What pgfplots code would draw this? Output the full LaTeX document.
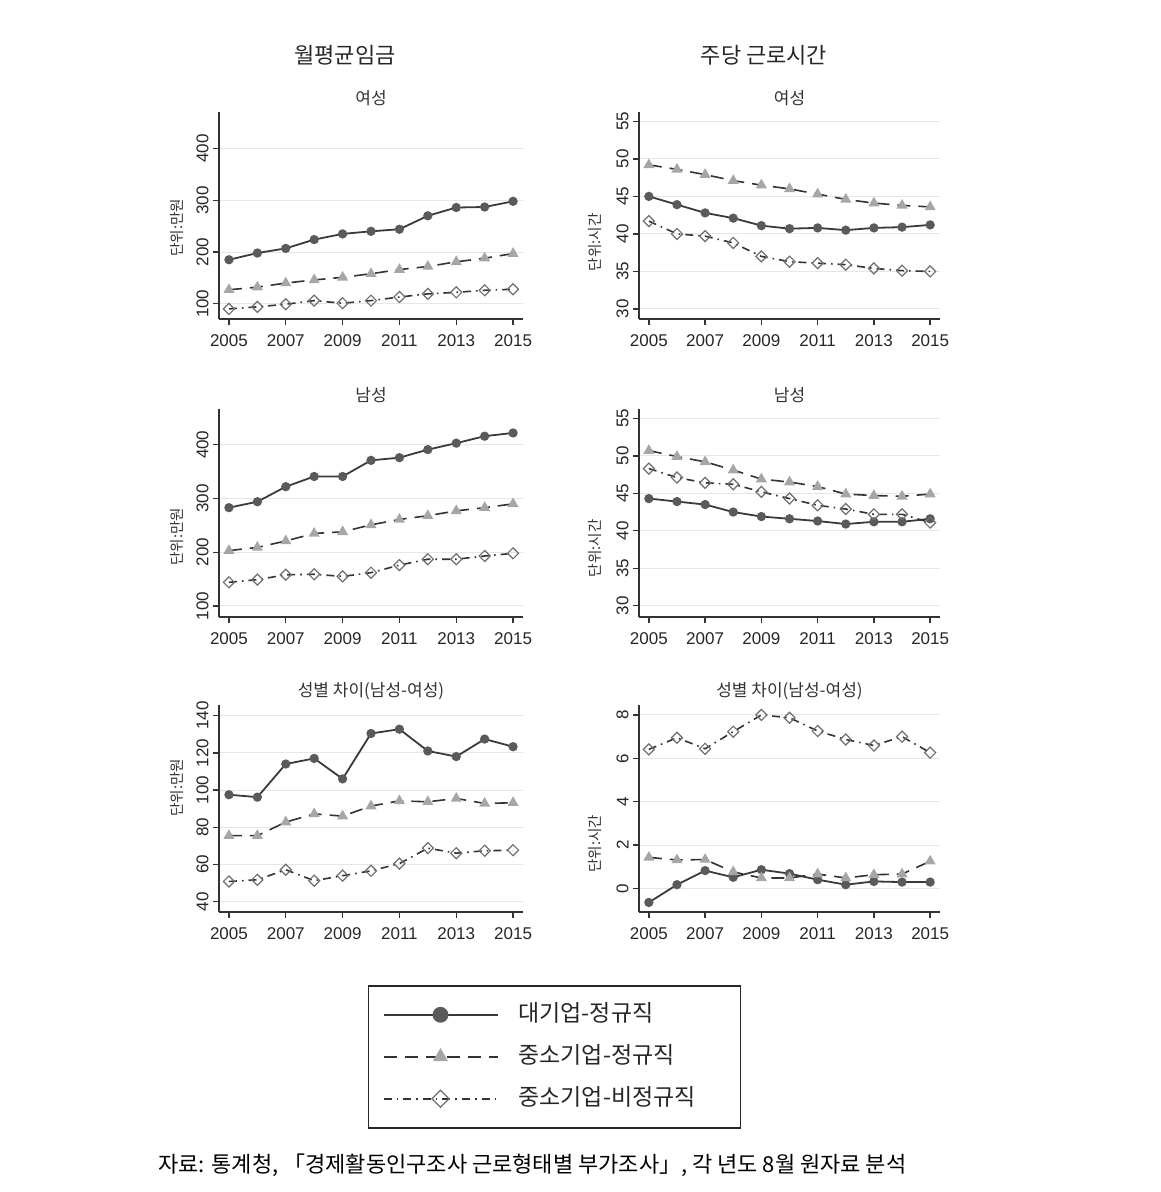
\documentclass[border=0pt]{standalone}
\usepackage{fontspec}
\setmainfont{Noto Sans CJK KR}
\newfontfamily\arial{Liberation Sans}
\usepackage{pgfplots}
\pgfplotsset{compat=1.18}

\definecolor{cLarge}{HTML}{5A5A5A}
\definecolor{cLargeLine}{HTML}{3A3A3A}
\definecolor{cSmeTri}{HTML}{A6A6A6}
\definecolor{cDia}{HTML}{6E6E6E}
\definecolor{gridc}{HTML}{E6E6E6}
\definecolor{axisc}{HTML}{333333}

\pgfplotsset{
 panel/.style={
  scale only axis, height=103.5pt,
  xmin=2004.65, xmax=2015.35,
  xtick={2005,2007,...,2015},
  axis lines*=left,
  axis line style={axisc, line width=0.8pt},
  tick style={axisc, line width=0.7pt},
  tick align=outside, major tick length=3pt,
  ymajorgrids, grid style={gridc, line width=0.5pt},
  /pgf/number format/assume math mode=true,
  /pgf/number format/1000 sep={},
  tick label style={font=\arial\fontsize{8.5}{10}\selectfont, text=black!85},
  yticklabel style={rotate=90, anchor=south, inner sep=2pt},
  xticklabel style={anchor=north, inner sep=2pt, yshift=-2.5pt},
  every axis title shift=0pt,
  title style={font=\fontsize{8.5}{10}\selectfont, text=black!80, at={(0.5,1)}, anchor=center, yshift=7pt},
  ylabel style={font=\fontsize{7.3}{9}\selectfont, text=black!80, anchor=center},
 },
 leftcol/.style={panel, width=152pt},
 rightcol/.style={panel, width=150.5pt},
 large/.style={cLargeLine, solid, line width=0.9pt, mark=*, mark size=1.85pt, mark options={fill=cLarge, draw=cLarge, solid},
   legend image post style={mark size=3.5pt}},
 smereg/.style={black!80, dash pattern=on 6.5pt off 4pt, line width=0.8pt, mark=triangle*, mark size=2.4pt, mark options={fill=cSmeTri, draw=cSmeTri, solid},
   legend image post style={mark size=3.6pt}},
 smenon/.style={black!80, dash pattern=on 4pt off 2.5pt on 0.8pt off 2.5pt, line width=0.8pt, mark=square, mark size=1.95pt, mark options={draw=cDia, fill=white, solid, line width=0.6pt, rotate=45},
   legend image post style={mark size=3pt}},
}

\begin{document}
\begin{tikzpicture}
\path[use as bounding box] (0,0) rectangle (580pt,596pt);

\node[font=\fontsize{11}{13}\selectfont, text=black!85] at (172.5pt,568.5pt) {월평균임금};
\node[font=\fontsize{11}{13}\selectfont, text=black!85] at (382pt,568.5pt) {주당 근로시간};

% P1 wage female
\begin{axis}[leftcol, at={(109.5pt,436.5pt)}, anchor=south west,
  ymin=70.5, ymax=470.7, ytick={100,200,300,400}, title={여성},
  ylabel={단위:만원}, ylabel style={at={(axis description cs:-0.138,0.44)}}]
\addplot[large] coordinates {(2005,185)(2006,198)(2007,207)(2008,224)(2009,235)(2010,240)(2011,244)(2012,270)(2013,286)(2014,287)(2015,298)};
\addplot[smereg] coordinates {(2005,127)(2006,132)(2007,140)(2008,146)(2009,151)(2010,158)(2011,166)(2012,172)(2013,181)(2014,188)(2015,197)};
\addplot[smenon] coordinates {(2005,90)(2006,94)(2007,99)(2008,106)(2009,101)(2010,106)(2011,113)(2012,119)(2013,122)(2014,126)(2015,128)};
\end{axis}

% P2 hours female
\begin{axis}[rightcol, at={(319.5pt,436.5pt)}, anchor=south west,
  ymin=28.66, ymax=56.25, ytick={30,35,...,55}, title={여성},
  ylabel={단위:시간}, ylabel style={at={(axis description cs:-0.145,0.37)}}]
\addplot[large] coordinates {(2005,45.0)(2006,43.9)(2007,42.8)(2008,42.1)(2009,41.1)(2010,40.7)(2011,40.8)(2012,40.5)(2013,40.8)(2014,40.9)(2015,41.2)};
\addplot[smereg] coordinates {(2005,49.2)(2006,48.6)(2007,47.9)(2008,47.1)(2009,46.5)(2010,46.0)(2011,45.3)(2012,44.6)(2013,44.1)(2014,43.8)(2015,43.6)};
\addplot[smenon] coordinates {(2005,41.7)(2006,40.0)(2007,39.7)(2008,38.8)(2009,37.0)(2010,36.3)(2011,36.1)(2012,35.9)(2013,35.4)(2014,35.1)(2015,35.0)};
\end{axis}

% P3 wage male
\begin{axis}[leftcol, at={(109.5pt,287.5pt)}, anchor=south west, height=104pt,
  ymin=79.5, ymax=466.6, ytick={100,200,300,400}, title={남성},
  ylabel={단위:만원}, ylabel style={at={(axis description cs:-0.138,0.385)}}]
\addplot[large] coordinates {(2005,283)(2006,294)(2007,322)(2008,341)(2009,341)(2010,371)(2011,376)(2012,391)(2013,403)(2014,416)(2015,422)};
\addplot[smereg] coordinates {(2005,203)(2006,209)(2007,221)(2008,235)(2009,238)(2010,251)(2011,261)(2012,268)(2013,277)(2014,283)(2015,290)};
\addplot[smenon] coordinates {(2005,144)(2006,149)(2007,158)(2008,159)(2009,155)(2010,162)(2011,176)(2012,187)(2013,187)(2014,193)(2015,198)};
\end{axis}

% P4 hours male
\begin{axis}[rightcol, at={(319.5pt,287.5pt)}, anchor=south west, height=104pt,
  ymin=28.5, ymax=56.25, ytick={30,35,...,55}, title={남성},
  ylabel={단위:시간}, ylabel style={at={(axis description cs:-0.145,0.33)}}]
\addplot[large] coordinates {(2005,44.3)(2006,43.9)(2007,43.5)(2008,42.5)(2009,41.9)(2010,41.6)(2011,41.3)(2012,40.9)(2013,41.2)(2014,41.2)(2015,41.6)};
\addplot[smereg] coordinates {(2005,50.7)(2006,49.9)(2007,49.2)(2008,48.1)(2009,46.9)(2010,46.5)(2011,45.9)(2012,44.9)(2013,44.7)(2014,44.6)(2015,44.9)};
\addplot[smenon] coordinates {(2005,48.3)(2006,47.1)(2007,46.4)(2008,46.2)(2009,45.2)(2010,44.3)(2011,43.4)(2012,42.9)(2013,42.2)(2014,42.2)(2015,41.1)};
\end{axis}

% P5 wage gap
\begin{axis}[leftcol, at={(109.5pt,140pt)}, anchor=south west,
  ymin=34.5, ymax=145.7, ytick={40,60,...,140}, title={성별 차이(남성-여성)},
  ylabel={단위:만원}, ylabel style={at={(axis description cs:-0.138,0.6)}},
  legend style={at={(axis description cs:1.1036,-0.3527)}, anchor=north,
    draw=black!85, line width=0.8pt, inner xsep=7pt, inner ysep=8.75pt,
    row sep=9.5pt, cells={anchor=west},
    nodes={inner sep=0pt, text height=9pt, text depth=2.5pt},
    font=\fontsize{11.5}{13}\selectfont, text=black!85},
  legend image code/.code={\draw[mark repeat=2, mark phase=2, #1] plot coordinates {(0pt,0pt) (28.5pt,0pt) (57pt,0pt)};}]
\addplot[large] coordinates {(2005,97.5)(2006,96.2)(2007,114)(2008,117)(2009,106)(2010,130.4)(2011,132.7)(2012,121)(2013,118)(2014,127.4)(2015,123.3)};
\addlegendentry{\hspace*{10pt}\makebox[104pt][l]{대기업-정규직}}
\addplot[smereg] coordinates {(2005,75.5)(2006,75.5)(2007,82.8)(2008,87.2)(2009,86)(2010,91.4)(2011,94.2)(2012,93.7)(2013,95.5)(2014,92.8)(2015,93.2)};
\addlegendentry{\hspace*{10pt}\makebox[104pt][l]{중소기업-정규직}}
\addplot[smenon] coordinates {(2005,50.9)(2006,51.8)(2007,57.2)(2008,51.3)(2009,54)(2010,56.6)(2011,60.5)(2012,68.8)(2013,66.1)(2014,67.4)(2015,67.7)};
\addlegendentry{\hspace*{10pt}\makebox[104pt][l]{중소기업-비정규직}}
\end{axis}

% P6 hours gap
\begin{axis}[rightcol, at={(319.5pt,140pt)}, anchor=south west,
  ymin=-1.09, ymax=8.46, ytick={0,2,...,8}, title={성별 차이(남성-여성)},
  ylabel={단위:시간}, ylabel style={at={(axis description cs:-0.145,0.33)}}]
\addplot[large] coordinates {(2005,-0.65)(2006,0.17)(2007,0.82)(2008,0.51)(2009,0.86)(2010,0.68)(2011,0.40)(2012,0.17)(2013,0.32)(2014,0.29)(2015,0.29)};
\addplot[smereg] coordinates {(2005,1.43)(2006,1.31)(2007,1.33)(2008,0.76)(2009,0.48)(2010,0.48)(2011,0.66)(2012,0.48)(2013,0.63)(2014,0.66)(2015,1.25)};
\addplot[smenon] coordinates {(2005,6.41)(2006,6.95)(2007,6.44)(2008,7.23)(2009,8.0)(2010,7.87)(2011,7.26)(2012,6.87)(2013,6.59)(2014,7.0)(2015,6.26)};
\end{axis}

\node[anchor=west, inner sep=0pt, font=\fontsize{11}{13}\selectfont, text=black] at (79pt,13.5pt) {자료: 통계청, 「경제활동인구조사 근로형태별 부가조사」, 각 년도 8월 원자료 분석};
\end{tikzpicture}
\end{document}
